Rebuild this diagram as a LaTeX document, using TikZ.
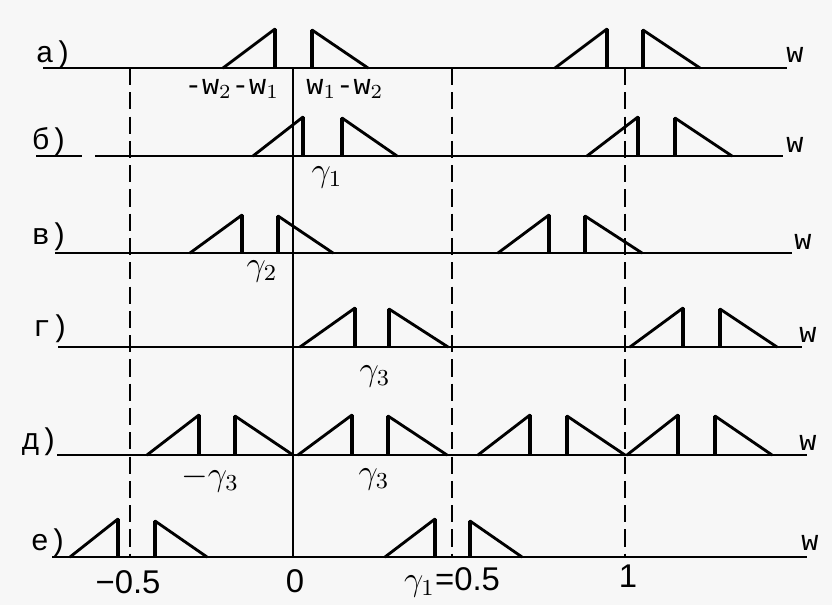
\documentclass[tikz,border=0pt]{standalone}
\usepackage{fontspec}
\setmainfont{Liberation Mono}
\newfontfamily\numfont{Liberation Sans}
\usetikzlibrary{positioning}

\tikzset{
  axisline/.style={line width=0.75pt},
  guide/.style={line width=0.75pt, dash pattern=on 6pt off 2.5pt},
  slope/.style={line width=1pt, line cap=round},
  edge/.style={line width=1.6pt},
  rowlabel/.style={font=\fontsize{10.5}{10.5}\selectfont},
  wlabel/.style={font=\fontsize{10}{10}\selectfont},
  ticklabel/.style={font=\numfont\fontsize{11.5}{11.5}\selectfont},
  freqlabel/.style={font=\fontsize{10}{10}\selectfont},
  shiftlabel/.style={font=\fontsize{12}{12}\selectfont},
}

% rising spectrum part: start x, vertical x, axis y, top y
\newcommand\rampup[4]{%
  \draw[slope] (#1,#3) -- (#2,#4);
  \draw[edge] (#2,#4) -- (#2,#3);}
% falling spectrum part: vertical x, end x, axis y, top y
\newcommand\rampdown[4]{%
  \draw[edge] (#1,#3) -- (#1,#4);
  \draw[slope] (#1,#4) -- (#2,#3);}

\begin{document}
\begin{tikzpicture}[x=0.35pt, y=-0.35pt]
  \fill[gray!6] (0,0) rectangle (832,605);
  \useasboundingbox (0,0) rectangle (832,605);

  % frequency guides
  \draw[guide] (130,68) -- (130,557);
  \draw[axisline] (293,68) -- (293,557);
  \draw[guide] (452,68) -- (452,557);
  \draw[guide] (625,68) -- (625,557);

  % axes
  \draw[axisline] (43,68) -- (787,68);
  \draw[axisline] (36,156) -- (82,156);
  \draw[axisline] (95,156) -- (783,156);
  \draw[axisline] (55,253) -- (792,253);
  \draw[axisline] (58,347) -- (802,347);
  \draw[axisline] (57,455) -- (807,455);
  \draw[axisline] (52,557) -- (807,557);

  % a)
  \foreach \a/\b in {223/275,555/607} \rampup{\a}{\b}{68}{29};
  \foreach \a/\b in {312/368,643/700} \rampdown{\a}{\b}{68}{30};
  % b)
  \foreach \a/\b in {253/303,587/638} \rampup{\a}{\b}{156}{117};
  \foreach \a/\b in {342/397,675/732} \rampdown{\a}{\b}{156}{118};
  % c)
  \foreach \a/\b in {190/242,498/549} \rampup{\a}{\b}{253}{215};
  \foreach \a/\b in {278/333,585/642} \rampdown{\a}{\b}{253}{216};
  % d)
  \foreach \a/\b in {300/355,630/683} \rampup{\a}{\b}{347}{308};
  \foreach \a/\b in {389/448,720/777} \rampdown{\a}{\b}{347}{309};
  % e)
  \foreach \a/\b in {147/199,298/352,478/530,627/678} \rampup{\a}{\b}{455}{415};
  \foreach \a/\b in {235/293,388/447,567/625,715/772} \rampdown{\a}{\b}{455}{416};
  % f)
  \foreach \a/\b in {70/118,385/435} \rampup{\a}{\b}{557}{519};
  \foreach \a/\b in {155/207,470/522} \rampdown{\a}{\b}{557}{521};

  % row labels
  \node[rowlabel] (la) at (54,55) {а)};
  \node[rowlabel] (lb) at (50,142) {б)};
  \node[rowlabel] (lc) at (50,237) {в)};
  \node[rowlabel] (ld) at (51,329) {г)};
  \node[rowlabel] (le) at (40,442) {д)};
  \node[rowlabel] (lf) at (49,543) {е)};

  \node[wlabel] (wa) at (795,55) {w};
  \node[wlabel] (wb) at (795,145) {w};
  \node[wlabel] (wc) at (803,242) {w};
  \node[wlabel] (wd) at (808,335) {w};
  \node[wlabel] (we) at (808,443) {w};
  \node[wlabel] (wf) at (810,543) {w};

  % band and shift labels
  \node[freqlabel] (negband) at (232,89) {-w$_2$-w$_1$};
  \node[freqlabel] (posband) at (345,89) {w$_1$-w$_2$};
  \node[shiftlabel] (g1) at (327,177) {$\gamma_1$};
  \node[shiftlabel] (g2) at (262,271) {$\gamma_2$};
  \node[shiftlabel] (g3) at (375,376) {$\gamma_3$};
  \node[shiftlabel] (mg3e) at (210,479) {$-\gamma_3$};
  \node[shiftlabel] (g3e) at (374,479) {$\gamma_3$};

  % ticks
  \node[ticklabel] (tm) at (128,582) {−0.5};
  \node[ticklabel] (t0) at (295,581) {0};
  \node[ticklabel] (th) at (452,582) {$\gamma_1$=0.5};
  \node[ticklabel] (t1) at (628,576) {1};
\end{tikzpicture}
\end{document}
